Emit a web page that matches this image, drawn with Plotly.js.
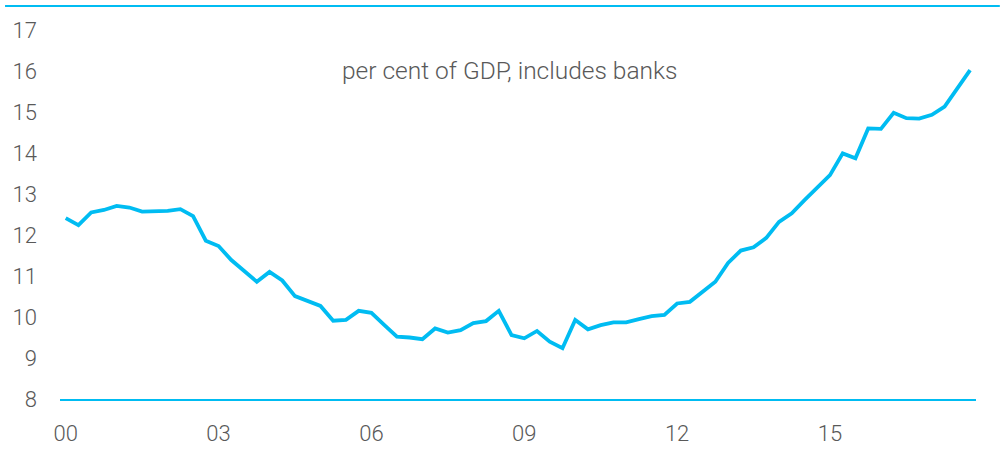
<!DOCTYPE html>
<html>
<head>
<meta charset="utf-8">
<script src="https://cdn.plot.ly/plotly-3.0.1.min.js"></script>
<style>html,body{margin:0;padding:0;background:#fff;}#chart{width:1003px;height:457px;}</style>
</head>
<body>
<div id="chart"></div>
<script>
// Quarterly, 2000Q1 .. 2017Q4
const startYear = 2000;
const values = [
  12.41, 12.24, 12.55, 12.61, 12.71, 12.67, 12.57, 12.57,
  12.59, 12.63, 12.46, 11.86, 11.73, 11.39, 11.13, 10.86,
  11.10, 10.89, 10.51, 10.40, 10.27, 9.91, 9.93, 10.15,
  10.10, 9.81, 9.52, 9.50, 9.46, 9.72, 9.62, 9.68,
  9.85, 9.90, 10.15, 9.56, 9.48, 9.66, 9.40, 9.24,
  9.93, 9.70, 9.80, 9.87, 9.87, 9.95, 10.02, 10.05,
  10.33, 10.37, 10.62, 10.86, 11.32, 11.62, 11.70, 11.93,
  12.32, 12.53, 12.85, 13.15, 13.46, 13.99, 13.87, 14.60,
  14.59, 14.98, 14.85, 14.84, 14.93, 15.13, 15.58, 16.02
];
const dates = values.map((v, i) => startYear + i / 4);
const tickVals = [2000, 2003, 2006, 2009, 2012, 2015];
const tickText = ['00', '03', '06', '09', '12', '15'];
const yTicks = [8, 9, 10, 11, 12, 13, 14, 15, 16, 17];
const noteText = 'per cent of GDP, includes banks';

const blue = '#00BCF2';
const grey = '#595959';
const fontFam = 'Roboto, "Open Sans", sans-serif';

const trace = {
  x: dates, y: values, type: 'scatter', mode: 'lines',
  line: {color: blue, width: 3.8}, hoverinfo: 'skip'
};

const layout = {
  width: 1003, height: 457,
  margin: {l: 60, r: 27, t: 30, b: 58},
  paper_bgcolor: '#fff', plot_bgcolor: '#fff',
  showlegend: false,
  font: {family: fontFam, color: grey, size: 22, weight: 300},
  xaxis: {
    range: [1999.888, 2017.866],
    tickvals: tickVals, ticktext: tickText,
    showgrid: false, zeroline: false,
    showline: true, linecolor: blue, linewidth: 2,
    ticks: '', ticklabelstandoff: 14,
    tickfont: {family: fontFam, size: 22, color: grey, weight: 300}
  },
  yaxis: {
    range: [8, 17],
    tickvals: yTicks,
    showgrid: false, zeroline: false, showline: false,
    ticks: '', ticklabelstandoff: 22,
    tickfont: {family: fontFam, size: 22, color: grey, weight: 300}
  },
  shapes: [{
    type: 'line', xref: 'paper', yref: 'paper',
    x0: -0.060, x1: 1.026, y0: 1.065, y1: 1.065,
    line: {color: blue, width: 2}
  }],
  annotations: [{
    text: noteText, xref: 'paper', yref: 'paper',
    x: (510 - 60) / 916, y: (399 - 70) / 369,
    xanchor: 'center', yanchor: 'middle', showarrow: false,
    font: {family: fontFam, size: 24.5, color: grey, weight: 300}
  }]
};

Plotly.newPlot('chart', [trace], layout, {displayModeBar: false, staticPlot: true});
</script>
</body>
</html>
